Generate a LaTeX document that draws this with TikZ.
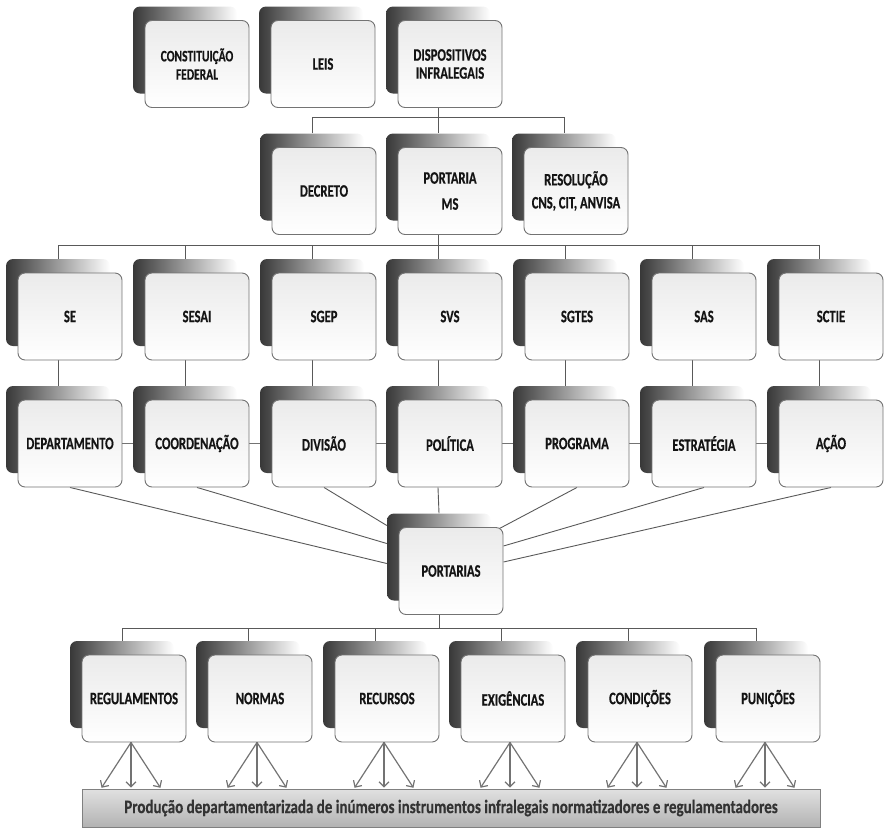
\documentclass[tikz,border=0pt]{standalone}
\usepackage{fontspec}
\newfontfamily\boxfont[FakeStretch=0.72,UprightFont={* Bold},BoldFont={* Bold},FakeBold=0.5]{Carlito}
\newfontfamily\barfont[FakeStretch=0.79,UprightFont={* Bold},BoldFont={* Bold},FakeBold=0.4]{Carlito}
\usetikzlibrary{arrows.meta,calc}
\pgfdeclarelayer{bg}
\pgfsetlayers{bg,main}
\newcommand\mkbox[5][]{%
  \node[backbox] (#2-s) at ([shift={(-12,-14)}]#3,#4) {};
  \node[front,#1] (#2) at (#3,#4) {#5};
}
\begin{document}
\begin{tikzpicture}[x=1pt,y=-1pt,
  front/.style={draw=black!55, line width=0.9pt, rounded corners=7pt,
    minimum width=104pt, minimum height=87pt, inner sep=1pt,
    top color=black!8, bottom color=white, align=center, text=black!92,
    font=\boxfont\fontsize{17.5}{21}\selectfont},
  backbox/.style={rounded corners=7pt, minimum width=104pt, minimum height=87pt,
    inner sep=0pt, left color=black!78, right color=white, draw=none},
  conn/.style={draw=black!65, line width=0.9pt},
  arr/.style={draw=black!55, line width=1.2pt,
    -{Straight Barb[length=5pt,width=10pt]}, shorten >=1pt}]
\useasboundingbox (0,0) rectangle (884,828);

% row 1
\mkbox[font=\boxfont\fontsize{16}{18.3}\selectfont]{cf}{197}{64}{CONSTITUIÇÃO\\FEDERAL}
\mkbox{leis}{323}{64}{LEIS}
\mkbox{disp}{450}{64}{DISPOSITIVOS\\[-3pt]INFRALEGAIS}
% row 2
\mkbox{dec}{324}{191}{DECRETO}
\mkbox{ptms}{450}{191}{PORTARIA\\[5pt]MS}
\mkbox{resol}{576}{191}{RESOLUÇÃO\\[2pt]CNS, CIT, ANVISA}
% row 3
\mkbox{se}{70}{316.5}{SE}
\mkbox{sesai}{197}{316.5}{SESAI}
\mkbox{sgep}{324}{316.5}{SGEP}
\mkbox{svs}{450}{316.5}{SVS}
\mkbox{sgtes}{577}{316.5}{SGTES}
\mkbox{sas}{704}{316.5}{SAS}
\mkbox{sctie}{831}{316.5}{SCTIE}
% row 4
\mkbox{dep}{70}{443.5}{DEPARTAMENTO}
\mkbox{coord}{197}{443.5}{COORDENAÇÃO}
\mkbox{div}{324}{443.5}{DIVISÃO}
\mkbox{pol}{450}{443.5}{POLÍTICA}
\mkbox{prog}{577}{443.5}{PROGRAMA}
\mkbox{estr}{704}{443.5}{ESTRATÉGIA}
\mkbox{acao}{831}{443.5}{AÇÃO}
% portarias
\mkbox{port}{451}{571}{PORTARIAS}
% row 5
\mkbox{reg}{134}{698.5}{REGULAMENTOS}
\mkbox{norm}{260}{698.5}{NORMAS}
\mkbox{rec}{387}{698.5}{RECURSOS}
\mkbox{exig}{513}{698.5}{EXIGÊNCIAS}
\mkbox{cond}{640}{698.5}{CONDIÇÕES}
\mkbox{pun}{768}{698.5}{PUNIÇÕES}

% bottom bar
\node[draw=black!50, line width=0.8pt, top color=black!12, bottom color=black!30,
  minimum width=738pt, minimum height=38pt, inner sep=0pt, text=black!80,
  font=\barfont\fontsize{19}{22}\selectfont] (bar) at (451,808)
  {Produção departamentarizada de inúmeros instrumentos infralegais normatizadores e regulamentadores};

\coordinate (h1) at (0,117);
\coordinate (h2) at (0,245);
\coordinate (h3) at (0,628);

\begin{pgfonlayer}{bg}
  % level 1 -> 2
  \draw[conn] (disp.south -| disp-s) -- (disp-s |- h1);
  \draw[conn] (dec-s.north) -- (dec-s |- h1) -- (resol-s |- h1) -- (resol-s.north);
  \draw[conn] (ptms-s |- h1) -- (ptms-s.north);
  % level 2 -> 3
  \draw[conn] (ptms.south -| ptms-s) -- (ptms-s |- h2);
  \draw[conn] (se-s.north) -- (se-s |- h2) -- (sctie-s |- h2) -- (sctie-s.north);
  \foreach \n in {sesai,sgep,svs,sgtes,sas}
    \draw[conn] (\n-s |- h2) -- (\n-s.north);
  % level 3 -> 4
  \foreach \a/\b in {se/dep,sesai/coord,sgep/div,svs/pol,sgtes/prog,sas/estr,sctie/acao}
    \draw[conn] (\a.south -| \a-s) -- (\b-s.north);
  % row 4 link line
  \draw[conn, draw=black!55] (dep.center) -- (acao.center);
  % fan to portarias
  \draw[conn] (pol.south -| pol-s) -- (port-s.north);
  \draw[conn] (dep.south) -- ([yshift=-6.5pt]port-s.west);
  \draw[conn] (coord.south) -- ([yshift=13.5pt]port-s.west);
  \draw[conn] (div.south) -- ([yshift=31.5pt]port-s.west);
  \draw[conn] (prog.south) -- ([xshift=-5pt,yshift=-2pt]port.north east);
  \draw[conn] (estr.south) -- ([yshift=25pt]port.east);
  \draw[conn] (acao.south) -- ([yshift=9pt]port.east);
  % portarias -> row 5
  \draw[conn] (port.south -| port-s) -- (port-s |- h3);
  \draw[conn] (reg-s.north) -- (reg-s |- h3) -- (pun-s |- h3) -- (pun-s.north);
  \foreach \n in {norm,rec,exig,cond}
    \draw[conn] (\n-s |- h3) -- (\n-s.north);
\end{pgfonlayer}

% arrows to bar
\foreach \n in {reg,norm,rec,exig,cond,pun}{
  \coordinate (\n-a) at ([xshift=-3pt]\n.south);
  \draw[arr] (\n-a) -- ($(\n-a |- bar.north)+(-30,0)$);
  \draw[arr] (\n-a) -- (\n-a |- bar.north);
  \draw[arr] (\n-a) -- ($(\n-a |- bar.north)+(30,0)$);
}
\end{tikzpicture}
\end{document}
